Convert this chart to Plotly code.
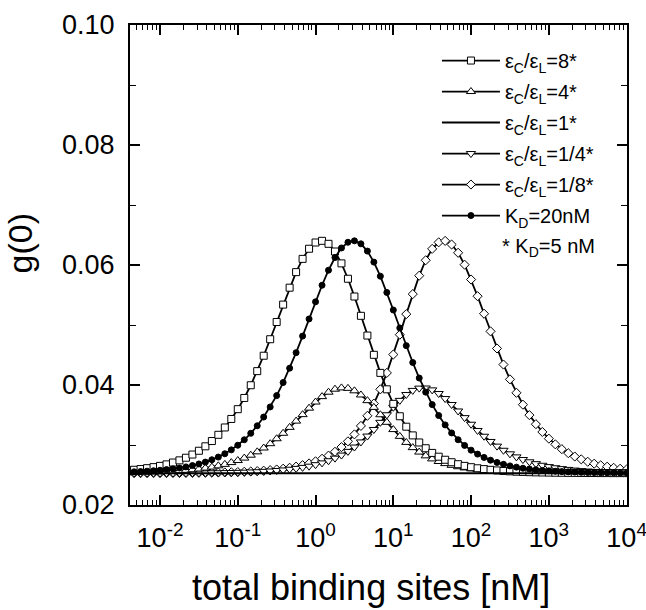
import plotly.graph_objects as go

# total binding sites [nM] (log-spaced sample points, 12 per decade)
x_sites = [0.003831, 0.004642, 0.005623, 0.006813, 0.008254,
           0.01, 0.01212, 0.01468, 0.01778, 0.02154, 0.0261, 0.03162, 0.03831, 0.04642, 0.05623, 0.06813, 0.08254,
           0.1, 0.1212, 0.1468, 0.1778, 0.2154, 0.261, 0.3162, 0.3831, 0.4642, 0.5623, 0.6813, 0.8254,
           1.0, 1.212, 1.468, 1.778, 2.154, 2.61, 3.162, 3.831, 4.642, 5.623, 6.813, 8.254,
           10.0, 12.12, 14.68, 17.78, 21.54, 26.1, 31.62, 38.31, 46.42, 56.23, 68.13, 82.54,
           100.0, 121.2, 146.8, 177.8, 215.4, 261.0, 316.2, 383.1, 464.2, 562.3, 681.3, 825.4,
           1000.0, 1212.0, 1468.0, 1778.0, 2154.0, 2610.0, 3162.0, 3831.0, 4642.0, 5623.0, 6813.0, 8254.0,
           10000.0]

# g(0) for eps_C/eps_L = 8 (K_D = 5 nM)
y_ratio_8 = [0.02577, 0.02587, 0.02599, 0.02614, 0.02631,
             0.02652, 0.02677, 0.02708, 0.02744, 0.02788, 0.02841, 0.02904, 0.02978, 0.03066, 0.03170, 0.03292, 0.03434,
             0.03597, 0.03784, 0.03996, 0.04231, 0.04488, 0.04763, 0.05050, 0.05340, 0.05622, 0.05881, 0.06102, 0.06271,
             0.06375, 0.06403, 0.06353, 0.06225, 0.06027, 0.05771, 0.05475, 0.05153, 0.04824, 0.04503, 0.04202, 0.03928,
             0.03686, 0.03479, 0.03305, 0.03160, 0.03042, 0.02946, 0.02868, 0.02805, 0.02754, 0.02713, 0.02680, 0.02652,
             0.02630, 0.02612, 0.02598, 0.02586, 0.02576, 0.02568, 0.02561, 0.02555, 0.02551, 0.02547, 0.02544, 0.02542,
             0.02540, 0.02538, 0.02537, 0.02535, 0.02535, 0.02534, 0.02533, 0.02533, 0.02532, 0.02532, 0.02531, 0.02531,
             0.02531]

# g(0) for eps_C/eps_L = 4 (K_D = 5 nM)
y_ratio_4 = [0.02539, 0.02541, 0.02543, 0.02546, 0.02549,
             0.02553, 0.02557, 0.02563, 0.02570, 0.02578, 0.02588, 0.02600, 0.02615, 0.02632, 0.02653, 0.02677, 0.02707,
             0.02741, 0.02782, 0.02830, 0.02886, 0.02950, 0.03022, 0.03104, 0.03195, 0.03294, 0.03398, 0.03506, 0.03614,
             0.03716, 0.03806, 0.03880, 0.03930, 0.03952, 0.03944, 0.03903, 0.03834, 0.03739, 0.03627, 0.03504, 0.03378,
             0.03257, 0.03144, 0.03043, 0.02956, 0.02882, 0.02819, 0.02768, 0.02725, 0.02690, 0.02661, 0.02638, 0.02618,
             0.02603, 0.02590, 0.02579, 0.02571, 0.02563, 0.02558, 0.02553, 0.02549, 0.02545, 0.02543, 0.02540, 0.02539,
             0.02537, 0.02536, 0.02535, 0.02534, 0.02533, 0.02533, 0.02532, 0.02532, 0.02532, 0.02531, 0.02531, 0.02531,
             0.02531]

# g(0) for eps_C/eps_L = 1 (flat)
y_ratio_1 = [0.0253, 0.0253]
x_ratio_1 = [x_sites[0], x_sites[-1]]

# g(0) for eps_C/eps_L = 1/4 (K_D = 5 nM)
y_ratio_1_4 = [0.02531, 0.02531, 0.02531, 0.02531, 0.02531,
               0.02531, 0.02532, 0.02532, 0.02533, 0.02533, 0.02534, 0.02535, 0.02535, 0.02537, 0.02538, 0.02540, 0.02542,
               0.02544, 0.02547, 0.02551, 0.02555, 0.02561, 0.02567, 0.02575, 0.02584, 0.02596, 0.02610, 0.02627, 0.02647,
               0.02672, 0.02702, 0.02738, 0.02781, 0.02832, 0.02894, 0.02966, 0.03051, 0.03149, 0.03258, 0.03378, 0.03504,
               0.03629, 0.03744, 0.03841, 0.03910, 0.03948, 0.03950, 0.03919, 0.03858, 0.03774, 0.03675, 0.03567, 0.03456,
               0.03346, 0.03242, 0.03146, 0.03059, 0.02981, 0.02912, 0.02853, 0.02802, 0.02758, 0.02720, 0.02689, 0.02662,
               0.02640, 0.02621, 0.02606, 0.02593, 0.02582, 0.02573, 0.02566, 0.02559, 0.02554, 0.02550, 0.02547, 0.02544,
               0.02541]

# g(0) for eps_C/eps_L = 1/8 (K_D = 5 nM)
y_ratio_1_8 = [0.02531, 0.02531, 0.02531, 0.02531, 0.02532,
               0.02532, 0.02532, 0.02533, 0.02533, 0.02534, 0.02535, 0.02536, 0.02537, 0.02539, 0.02541, 0.02543, 0.02546,
               0.02549, 0.02554, 0.02559, 0.02565, 0.02572, 0.02581, 0.02592, 0.02605, 0.02621, 0.02640, 0.02664, 0.02693,
               0.02728, 0.02771, 0.02823, 0.02887, 0.02965, 0.03061, 0.03177, 0.03318, 0.03487, 0.03690, 0.03928, 0.04202,
               0.04508, 0.04839, 0.05181, 0.05515, 0.05822, 0.06079, 0.06269, 0.06378, 0.06402, 0.06341, 0.06204, 0.06005,
               0.05758, 0.05480, 0.05188, 0.04894, 0.04609, 0.04341, 0.04094, 0.03870, 0.03672, 0.03498, 0.03347, 0.03217,
               0.03106, 0.03011, 0.02931, 0.02864, 0.02808, 0.02761, 0.02721, 0.02689, 0.02661, 0.02639, 0.02620, 0.02604,
               0.02592]

# g(0) for K_D = 20 nM (eps_C/eps_L = 8)
y_kd_20 = [0.02549, 0.02553, 0.02558, 0.02564, 0.02571,
           0.02579, 0.02590, 0.02602, 0.02617, 0.02635, 0.02657, 0.02684, 0.02715, 0.02754, 0.02799, 0.02854, 0.02919,
           0.02996, 0.03087, 0.03195, 0.03320, 0.03466, 0.03634, 0.03823, 0.04041, 0.04280, 0.04539, 0.04815, 0.05101,
           0.05387, 0.05663, 0.05913, 0.06125, 0.06284, 0.06379, 0.06403, 0.06353, 0.06232, 0.06048, 0.05813, 0.05542,
           0.05250, 0.04951, 0.04656, 0.04375, 0.04116, 0.03881, 0.03673, 0.03491, 0.03335, 0.03201, 0.03088, 0.02993,
           0.02914, 0.02848, 0.02793, 0.02747, 0.02709, 0.02678, 0.02652, 0.02631, 0.02613, 0.02599, 0.02587, 0.02577,
           0.02569, 0.02562, 0.02556, 0.02552, 0.02548, 0.02545, 0.02542, 0.02540, 0.02538, 0.02537, 0.02536, 0.02535,
           0.02534]

x_tick_vals = [0.01, 0.1, 1, 10, 100, 1000, 10000]
x_tick_text = ["10<sup>-2</sup>", "10<sup>-1</sup>", "10<sup>0</sup>", "10<sup>1</sup>",
               "10<sup>2</sup>", "10<sup>3</sup>", "10<sup>4</sup>"]
y_tick_vals = [0.02, 0.04, 0.06, 0.08, 0.10]
y_tick_text = ["0.02", "0.04", "0.06", "0.08", "0.10"]

names = ["ε<sub>C</sub>/ε<sub>L</sub>=8*", "ε<sub>C</sub>/ε<sub>L</sub>=4*", "ε<sub>C</sub>/ε<sub>L</sub>=1*",
         "ε<sub>C</sub>/ε<sub>L</sub>=1/4*", "ε<sub>C</sub>/ε<sub>L</sub>=1/8*", "K<sub>D</sub>=20nM"]

FONT = "Liberation Sans, Arial, sans-serif"

fig = go.Figure()

def add(x, y, name, symbol, size, fill, group, mode="lines+markers"):
    fig.add_trace(go.Scatter(
        x=x, y=y, name=name, mode=mode, legendgroup=group,
        line=dict(color="black", width=1.8),
        marker=dict(symbol=symbol, size=size, color=fill, line=dict(color="black", width=1)),
    ))

add(x_sites, y_ratio_1_8, names[4], "diamond", 7, "white", "g5")
add(x_sites, y_ratio_1_4, names[3], "triangle-down", 8, "white", "g4")
add(x_sites, y_ratio_4, names[1], "triangle-up", 8, "white", "g2")
add(x_sites, y_ratio_8, names[0], "square", 7, "white", "g1")
add(x_sites, y_kd_20, names[5], "circle", 6, "black", "g6")
fig.add_trace(go.Scatter(x=x_ratio_1, y=y_ratio_1, name=names[2], mode="lines", legendgroup="g3",
                         line=dict(color="black", width=2)))

# legend order
order = {names[0]: 1, names[1]: 2, names[2]: 3, names[3]: 4, names[4]: 5, names[5]: 6}
for tr in fig.data:
    tr.legendrank = order[tr.name]

minor_x = [m * 10 ** e for e in range(-3, 4) for m in range(2, 10)]

fig.update_xaxes(
    type="log", range=[-2.386, 4.005],
    tickvals=x_tick_vals, ticktext=x_tick_text,
    ticks="inside", ticklen=10, tickwidth=1.5, tickcolor="black",
    minor=dict(tickvals=minor_x, ticks="inside", ticklen=5, tickwidth=1.2, tickcolor="black"),
    showline=True, linewidth=2, linecolor="black", mirror="ticks",
    showgrid=False, zeroline=False, automargin=False,
    tickfont=dict(family=FONT, size=27, color="black"),
    ticklabelstandoff=8, ticklabeloverflow="allow",
)
fig.update_yaxes(
    range=[0.02, 0.10],
    tickvals=y_tick_vals, ticktext=y_tick_text,
    ticks="inside", ticklen=10, tickwidth=1.5, tickcolor="black",
    minor=dict(tickvals=[0.03, 0.05, 0.07, 0.09], ticks="inside", ticklen=6, tickwidth=1.2, tickcolor="black"),
    showline=True, linewidth=2, linecolor="black", mirror="ticks",
    showgrid=False, zeroline=False, automargin=False,
    tickfont=dict(family=FONT, size=27, color="black"),
    ticklabelstandoff=8, ticklabeloverflow="allow",
)

fig.update_layout(
    width=646, height=610,
    margin=dict(l=130, r=19, t=25, b=105, autoexpand=False),
    paper_bgcolor="white", plot_bgcolor="white",
    font=dict(family=FONT, color="black"),
    showlegend=True,
    legend=dict(
        x=0.6176, y=0.9666, xanchor="left", yanchor="top",
        bgcolor="rgba(0,0,0,0)", borderwidth=0,
        font=dict(family=FONT, size=20, color="black"),
        itemwidth=58, tracegroupgap=2.0, traceorder="grouped",
    ),
    annotations=[
        dict(text="total binding sites [nM]", xref="paper", yref="paper", x=0.485, y=-0.172,
             xanchor="center", yanchor="middle", showarrow=False,
             font=dict(family=FONT, size=36, color="black")),
        dict(text="g(0)", xref="paper", yref="paper", x=-0.2213, y=0.545, textangle=-90,
             xanchor="center", yanchor="middle", showarrow=False,
             font=dict(family=FONT, size=34, color="black")),
        dict(text="* K<sub>D</sub>=5 nM", xref="paper", yref="paper", x=0.7445, y=0.5375,
             xanchor="left", yanchor="middle", showarrow=False,
             font=dict(family=FONT, size=20, color="black")),
    ],
)

fig.write_html("out.html", config={"displayModeBar": False},
               post_script="document.body.style.margin='0';document.body.style.padding='0';")
